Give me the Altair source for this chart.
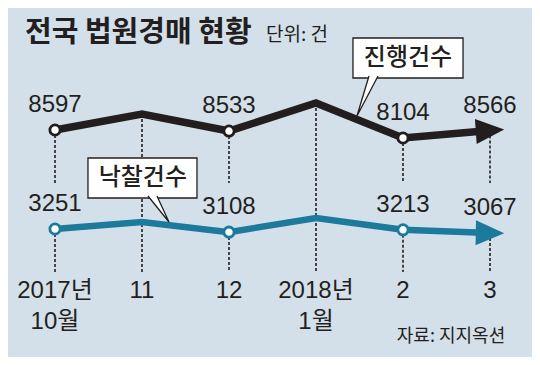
import altair as alt
import pandas as pd

# ---------------- data ----------------
month_labels = ["2017년\n10월", "11", "12", "2018년\n1월", "2", "3"]
month_idx = [0, 1, 2, 3, 4, 5]
jinhaeng = [8597, 9580, 8533, 10260, 8104, 8566]      # 진행건수
nakchal = [3251, 3570, 3108, 3760, 3213, 3067]        # 낙찰건수
show_label = [True, False, True, False, True, True]
show_marker = [True, False, True, False, True, False]

title_text = "전국 법원경매 현황"
unit_text = "단위: 건"
source_text = "자료: 지지옥션"
black_name = "진행건수"
teal_name = "낙찰건수"

# callout boxes / pointers in data space (x = month index, y = series value)
black_box = dict(x=3.425, x2=4.690, y=11800, y2=14264, tx=4.057, ty=13032)
black_ptr = dict(i=[3.609, 3.471, 3.713], v=[11923, 9459, 11923])
teal_box = dict(x=0.379, x2=1.632, y=4677, y2=6517, tx=1.01, ty=5597)
teal_ptr = dict(i=[1.069, 1.310, 1.172], v=[4769, 3573, 4769])

# gridline segment ends (series units)
black_grid_end = [5330, -150, 5330, -150, 5330, 5330]
teal_grid_end = 1273

# ---------------- styles ----------------
W, H = 524, 349
BG = "#d4e0e9"
BLACK = "#221e1f"
TEAL = "#1c7a9d"
TXT = "#231f20"
LATIN = "Liberation Sans, Noto Sans CJK KR, sans-serif"
KR = "Noto Sans CJK KR, sans-serif"

x_scale = alt.Scale(domain=[-47 / 87, (W - 47) / 87], nice=False, zero=False)


def y_scale(v0, ref0, per_px):
    top = v0 + (ref0 - 8) * per_px
    bottom = v0 - (H - (ref0 - 8)) * per_px
    return alt.Scale(domain=[bottom, top], nice=False, zero=False)


ys_black = y_scale(8597, 130, 61.6)
ys_teal = y_scale(3251, 229, 46)

X = alt.X("i:Q", scale=x_scale, axis=None)


def Y(scale, field="v"):
    return alt.Y(f"{field}:Q", scale=scale, axis=None)


df_black = pd.DataFrame({"i": month_idx, "v": jinhaeng, "lab": show_label,
                         "mk": show_marker, "end": black_grid_end})
df_teal = pd.DataFrame({"i": month_idx, "v": nakchal, "lab": show_label,
                        "mk": show_marker})
df_teal["end"] = teal_grid_end

layers = []

# dashed gridlines
layers.append(alt.Chart(df_black).mark_rule(color=TXT, strokeWidth=1.6, strokeDash=[3, 2]).encode(
    x=X, y=Y(ys_black), y2="end:Q"))
layers.append(alt.Chart(df_teal).transform_filter("datum.lab").mark_rule(
    color=TXT, strokeWidth=1.6, strokeDash=[3, 2]).encode(x=X, y=Y(ys_teal), y2="end:Q"))

# lines
layers.append(alt.Chart(df_black).mark_line(color=BLACK, strokeWidth=7.5, strokeJoin="miter").encode(
    x=X, y=Y(ys_black)))
layers.append(alt.Chart(df_teal).mark_line(color=TEAL, strokeWidth=6.5, strokeJoin="miter").encode(
    x=X, y=Y(ys_teal)))

# arrow heads
arrow = "M-1,-0.88L1,0L-1,0.88Z"
layers.append(alt.Chart(df_black.tail(1)).mark_point(
    shape=arrow, filled=True, size=810, angle=356, color=BLACK, opacity=1).encode(x=X, y=Y(ys_black)))
layers.append(alt.Chart(df_teal.tail(1)).mark_point(
    shape=arrow, filled=True, size=810, angle=1, color=TEAL, opacity=1).encode(x=X, y=Y(ys_teal)))

# markers
layers.append(alt.Chart(df_black).transform_filter("datum.mk").mark_point(
    shape="circle", filled=True, fill="white", stroke=BLACK, strokeWidth=2.8, size=105, opacity=1).encode(
    x=X, y=Y(ys_black)))
layers.append(alt.Chart(df_teal).transform_filter("datum.mk").mark_point(
    shape="circle", filled=True, fill="white", stroke=TEAL, strokeWidth=2.8, size=105, opacity=1).encode(
    x=X, y=Y(ys_teal)))

# value labels
layers.append(alt.Chart(df_black).transform_filter("datum.lab").mark_text(
    dy=-25, fontSize=24, font=LATIN, color=TXT).encode(x=X, y=Y(ys_black), text="v:Q"))
layers.append(alt.Chart(df_teal).transform_filter("datum.lab").mark_text(
    dy=-25, fontSize=24, font=LATIN, color=TXT).encode(x=X, y=Y(ys_teal), text="v:Q"))


# callouts
def callout(box, ptr, name, ys):
    out = []
    bdf = pd.DataFrame([box])
    out.append(alt.Chart(bdf).mark_rect(fill="white", stroke=TXT, strokeWidth=1.3).encode(
        x=alt.X("x:Q", scale=x_scale, axis=None), x2="x2:Q",
        y=alt.Y("y:Q", scale=ys, axis=None), y2="y2:Q"))
    pdf = pd.DataFrame({"i": ptr["i"], "v": ptr["v"], "o": [0, 1, 2]})
    out.append(alt.Chart(pdf).mark_line(fill="white", stroke=TXT, strokeWidth=1.3,
                                        strokeJoin="miter").encode(
        x=X, y=Y(ys), order="o:Q"))
    tdf = pd.DataFrame({"i": [box["tx"]], "v": [box["ty"]], "t": [name]})
    out.append(alt.Chart(tdf).mark_text(fontSize=24, font=KR, fontWeight=500, color=TXT).encode(
        x=X, y=Y(ys), text="t:N"))
    return out


layers += callout(black_box, black_ptr, black_name, ys_black)
layers += callout(teal_box, teal_ptr, teal_name, ys_teal)

# x labels
df_lab = pd.DataFrame({"i": month_idx, "t": month_labels})
layers.append(alt.Chart(df_lab).mark_text(
    fontSize=24, font=LATIN, color=TXT, baseline="top", lineBreak="\n", lineHeight=31).encode(
    x=X, y=alt.value(271), text="t:N"))

# title, unit, source
df_t = pd.DataFrame({"t": [title_text]})
layers.append(alt.Chart(df_t).mark_text(
    fontSize=29, font=KR, fontWeight="bold", color=TXT, align="left", baseline="middle").encode(
    x=alt.value(17), y=alt.value(25), text="t:N"))
df_u = pd.DataFrame({"t": [unit_text]})
layers.append(alt.Chart(df_u).mark_text(
    fontSize=19, font=KR, color=TXT, align="left", baseline="middle").encode(
    x=alt.value(258), y=alt.value(27), text="t:N"))
df_s = pd.DataFrame({"t": [source_text]})
layers.append(alt.Chart(df_s).mark_text(
    fontSize=18, font=KR, color=TXT, align="center", baseline="middle").encode(
    x=alt.value(443), y=alt.value(329), text="t:N"))

chart = alt.layer(*layers).resolve_scale(y="independent").properties(
    width=W, height=H, autosize=alt.AutoSizeParams(type="none"), padding=0
).configure(background=BG).configure_view(stroke=None)

chart.save("out.html", embed_options={"renderer": "svg", "actions": False})
